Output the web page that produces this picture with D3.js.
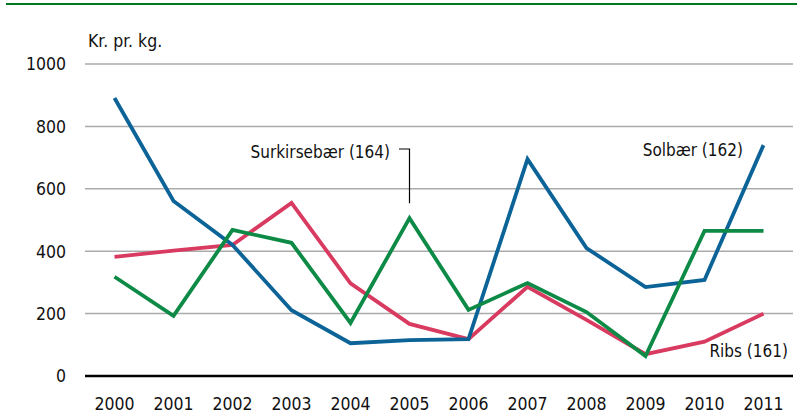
<!DOCTYPE html>
<html>
<head>
<meta charset="utf-8">
<script src="https://cdn.jsdelivr.net/npm/d3@7"></script>
<style>
  body { margin: 0; background: #fff; }
  svg { display: block; }
  text { font-family: "Liberation Sans Narrow", "DejaVu Sans Condensed", "Liberation Sans", sans-serif; fill: #111; }
</style>
</head>
<body>
<svg id="chart"></svg>
<script>
var width = 803,
    height = 416;

var years = ["2000", "2001", "2002", "2003", "2004", "2005", "2006", "2007", "2008", "2009", "2010", "2011"];
var yTicks = [0, 200, 400, 600, 800, 1000];

// Kr. pr. kg.
var solbaer = [891, 561, 420, 211, 105, 115, 118, 695, 410, 285, 308, 740];
var ribs = [382, 402, 420, 555, 297, 167, 118, 286, 180, 70, 110, 200];
var surkirsebaer = [318, 193, 468, 427, 170, 506, 212, 298, 205, 64, 465, 465];

var series = [
  { name: "Ribs", values: ribs, color: "#d83a60" },
  { name: "Solbær", values: solbaer, color: "#0b6397" },
  { name: "Surkirsebær", values: surkirsebaer, color: "#0d8a45" }
];

var svg = d3.select("#chart").attr("width", width).attr("height", height);

var x = d3.scalePoint().domain(years).range([85, 793]).padding(0.5);
var y = d3.scaleLinear().domain([0, 1000]).range([376, 64]);

// top rule
svg.append("line")
  .attr("x1", 6).attr("x2", 797)
  .attr("y1", 4).attr("y2", 4)
  .attr("stroke", "#007a1e")
  .attr("stroke-width", 2);

// grid
svg.append("g").selectAll("line")
  .data(yTicks.filter(function(d) { return d > 0; }))
  .enter().append("line")
  .attr("x1", 85).attr("x2", 793)
  .attr("y1", function(d) { return y(d); })
  .attr("y2", function(d) { return y(d); })
  .attr("stroke", "#ababab")
  .attr("stroke-width", 1.5);

// y labels
svg.append("g").selectAll("text")
  .data(yTicks)
  .enter().append("text")
  .attr("x", 66)
  .attr("y", function(d) { return y(d); })
  .attr("dy", "0.36em")
  .attr("text-anchor", "end")
  .style("font-size", "17.5px")
  .text(function(d) { return d; });

svg.append("text")
  .attr("x", 88).attr("y", 47)
  .style("font-size", "17.5px")
  .text("Kr. pr. kg.");

// x labels
svg.append("g").selectAll("text")
  .data(years)
  .enter().append("text")
  .attr("x", function(d) { return x(d); })
  .attr("y", 410)
  .attr("text-anchor", "middle")
  .style("font-size", "17.5px")
  .text(function(d) { return d; });

// lines
var line = d3.line()
  .x(function(d, i) { return x(years[i]); })
  .y(function(d) { return y(d); });

svg.append("g").selectAll("path")
  .data(series)
  .enter().append("path")
  .attr("d", function(d) { return line(d.values); })
  .attr("fill", "none")
  .attr("stroke", function(d) { return d.color; })
  .attr("stroke-width", 3.8)
  .attr("stroke-linejoin", "miter");

// baseline
svg.append("line")
  .attr("x1", 85).attr("x2", 793)
  .attr("y1", y(0)).attr("y2", y(0))
  .attr("stroke", "#000")
  .attr("stroke-width", 2.5);

// series labels
svg.append("text")
  .attr("x", 390).attr("y", 158)
  .attr("text-anchor", "end")
  .style("font-size", "17px")
  .text("Surkirsebær (164)");

svg.append("path")
  .attr("d", "M399," + 149 + "H" + x("2005") + "V" + (y(506) - 15))
  .attr("fill", "none")
  .attr("stroke", "#000")
  .attr("stroke-width", 1.2);

svg.append("text")
  .attr("x", 743).attr("y", 156)
  .attr("text-anchor", "end")
  .style("font-size", "17px")
  .text("Solbær (162)");

svg.append("text")
  .attr("x", 788).attr("y", 357)
  .attr("text-anchor", "end")
  .style("font-size", "17px")
  .text("Ribs (161)");
</script>
</body>
</html>
